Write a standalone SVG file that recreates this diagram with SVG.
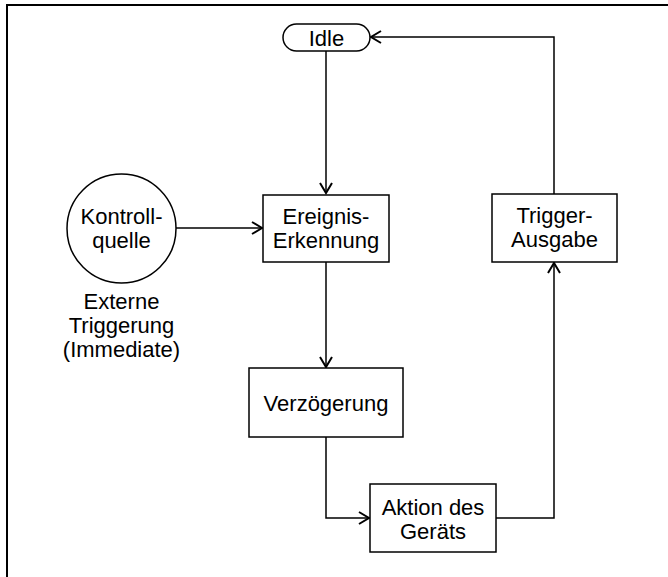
<svg xmlns="http://www.w3.org/2000/svg" width="668" height="577" viewBox="0 0 668 577">
<defs>
<style>
text{font-family:"Liberation Sans",Arial,Helvetica,sans-serif;font-size:22px;fill:#000;text-anchor:middle}
.n{fill:#fff;stroke:#000;stroke-width:1.5}
.c{fill:none;stroke:#000;stroke-width:1.5}
.f{fill:none;stroke:#000;stroke-width:2}
</style>
<marker id="a" markerWidth="14" markerHeight="16" refX="11" refY="7" orient="auto" markerUnits="userSpaceOnUse">
<path d="M1,1 L11,7 L1,13" fill="none" stroke="#000" stroke-width="2"/>
</marker>
</defs>
<rect width="668" height="577" fill="#fff"/>
<path class="f" d="M7,577 V5 H668"/>
<g id="connectors">
<path class="c" d="M326,51 V193" marker-end="url(#a)"/>
<path class="c" d="M176,228 H262" marker-end="url(#a)"/>
<path class="c" d="M326,262 V367" marker-end="url(#a)"/>
<path class="c" d="M326,437 V518 H369" marker-end="url(#a)"/>
<path class="c" d="M496,518 H554 V263" marker-end="url(#a)"/>
<path class="c" d="M554,194 V37 H371" marker-end="url(#a)"/>
</g>
<g id="idle">
<rect class="n" x="283" y="24" width="87" height="27" rx="13.5"/>
<text x="326.5" y="45.5">Idle</text>
</g>
<g id="kontrollquelle">
<circle class="n" cx="121.5" cy="228.5" r="54.5"/>
<text x="121.5" y="224">Kontroll-</text>
<text x="121.5" y="248">quelle</text>
</g>
<g id="externe-label">
<text x="121.5" y="309">Externe</text>
<text x="121.5" y="333">Triggerung</text>
<text x="121.5" y="357">(Immediate)</text>
</g>
<g id="ereignis">
<rect class="n" x="263" y="195" width="126" height="67"/>
<text x="326" y="224">Ereignis-</text>
<text x="326" y="248">Erkennung</text>
</g>
<g id="verzoegerung">
<rect class="n" x="249" y="368" width="154" height="69"/>
<text x="326" y="410.5">Verzögerung</text>
</g>
<g id="aktion">
<rect class="n" x="370" y="484" width="126" height="68"/>
<text x="433" y="515">Aktion des</text>
<text x="433" y="539">Geräts</text>
</g>
<g id="trigger">
<rect class="n" x="492" y="194" width="125" height="68"/>
<text x="554.5" y="223">Trigger-</text>
<text x="554.5" y="247">Ausgabe</text>
</g>
</svg>
